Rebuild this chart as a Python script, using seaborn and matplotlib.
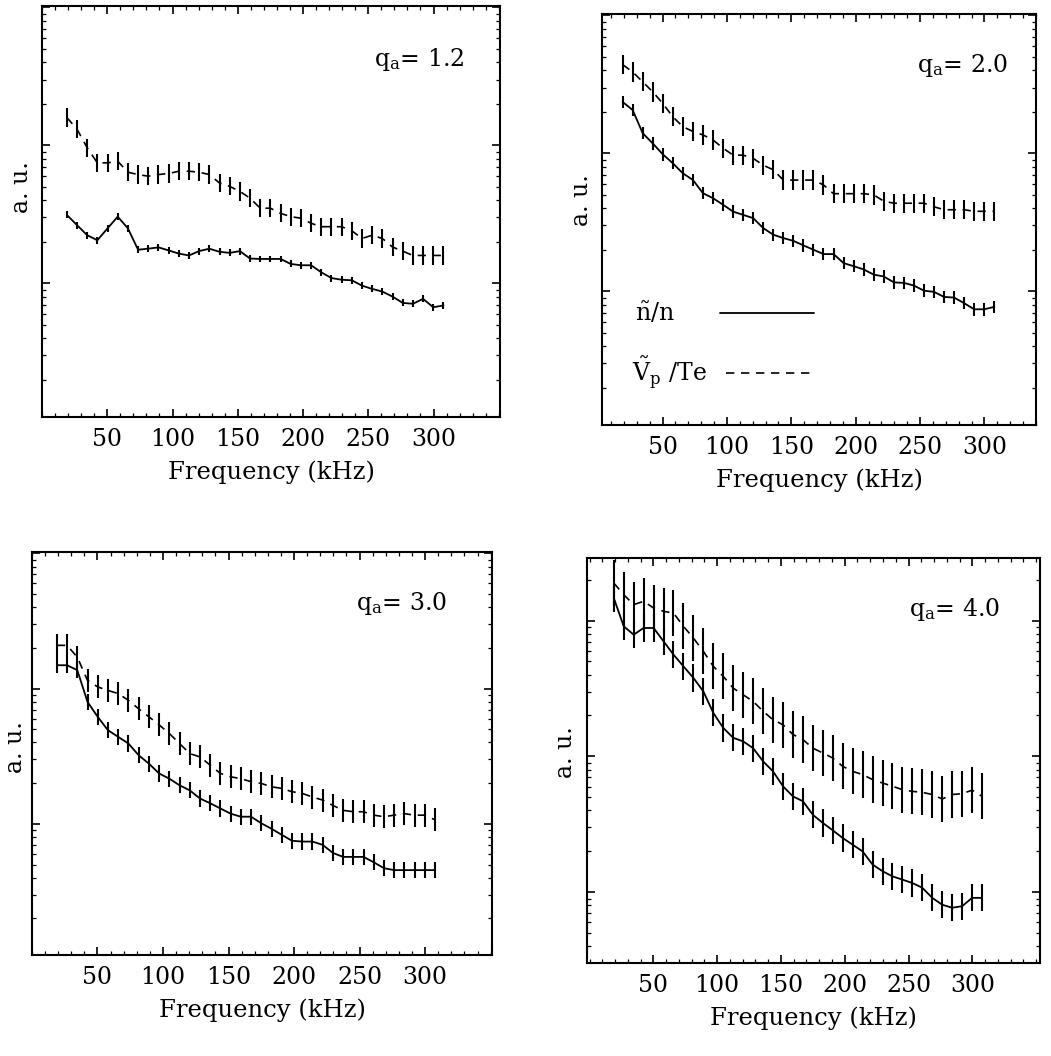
import numpy as np
import matplotlib
matplotlib.use("Agg")
import matplotlib.pyplot as plt
import seaborn as sns
from matplotlib.ticker import FixedLocator, MultipleLocator, LogLocator, NullFormatter

# ---------------- data ----------------
freq = [19.0, 26.8, 34.6, 42.4, 50.2, 58.0, 65.8, 73.6, 81.4, 89.2, 97.0, 104.8,
        112.6, 120.4, 128.2, 136.0, 143.8, 151.6, 159.4, 167.2, 175.0, 182.8,
        190.6, 198.4, 206.2, 214.0, 221.8, 229.6, 237.4, 245.2, 253.0, 260.8,
        268.6, 276.4, 284.2, 292.0, 299.8, 307.6]

q_labels = ["1.2", "2.0", "3.0", "4.0"]
x_ticks = [50, 100, 150, 200, 250, 300]

# n~/n (solid)
n_q12 = [3.13, 2.64, 2.23, 2.05, 2.50, 3.04, 2.50, 1.75, 1.78, 1.82, 1.73, 1.64, 1.59,
         1.71, 1.78, 1.69, 1.66, 1.71, 1.51, 1.50, 1.50, 1.50, 1.38, 1.35, 1.35, 1.20,
         1.09, 1.06, 1.05, 0.96, 0.91, 0.87, 0.80, 0.72, 0.71, 0.77, 0.67, 0.69]
n_q20 = [23.6, 20.6, 14.0, 11.8, 9.84, 8.47, 7.16, 6.41, 5.14, 4.73, 4.24, 3.78, 3.58,
         3.39, 2.87, 2.57, 2.43, 2.32, 2.15, 2.00, 1.86, 1.86, 1.60, 1.52, 1.44, 1.32,
         1.28, 1.16, 1.15, 1.10, 1.01, 0.99, 0.91, 0.90, 0.82, 0.74, 0.74, 0.77]
n_q30 = [14.9, 14.9, 13.7, 7.98, 6.18, 4.93, 4.40, 3.93, 3.22, 2.79, 2.36, 2.16, 1.93,
         1.77, 1.54, 1.42, 1.30, 1.19, 1.13, 1.13, 1.01, 0.92, 0.83, 0.75, 0.74, 0.74,
         0.70, 0.61, 0.57, 0.57, 0.57, 0.52, 0.47, 0.455, 0.455, 0.455, 0.455, 0.455]
n_q40 = [146.6, 90.6, 78.7, 88.1, 88.1, 70.3, 56.1, 46.0, 37.8, 30.1, 20.9, 16.2, 13.7,
         12.9, 11.5, 9.20, 7.76, 6.03, 5.08, 4.68, 3.72, 3.24, 2.86, 2.51, 2.24, 2.00,
         1.60, 1.43, 1.31, 1.24, 1.17, 1.08, 0.91, 0.81, 0.77, 0.79, 0.91, 0.91]

# V~p/Te (dashed)
v_q12 = [15.9, 13.1, 9.6, 7.46, 7.46, 7.67, 6.38, 6.14, 5.97, 6.14, 6.24, 6.49, 6.49,
         6.38, 6.14, 5.33, 5.04, 4.63, 4.14, 3.50, 3.50, 3.21, 3.04, 2.96, 2.72, 2.57,
         2.57, 2.57, 2.40, 2.11, 2.23, 2.11, 1.83, 1.71, 1.59, 1.59, 1.59, 1.59]
v_q20 = [44.0, 38.9, 33.0, 27.9, 23.0, 18.4, 15.6, 14.4, 13.6, 12.5, 10.9, 9.7, 9.7,
         9.2, 8.2, 7.6, 6.4, 6.4, 6.4, 6.4, 5.9, 5.1, 5.1, 5.1, 5.1, 5.0, 4.5, 4.35,
         4.35, 4.35, 4.35, 4.1, 3.9, 3.9, 3.9, 3.8, 3.8, 3.8]
v_q30 = [20.9, 20.9, 17.1, 11.5, 10.3, 9.7, 9.2, 8.2, 7.1, 6.2, 5.4, 4.66, 3.93, 3.31,
         3.13, 2.72, 2.36, 2.23, 2.16, 2.05, 1.99, 1.88, 1.83, 1.73, 1.68, 1.58, 1.50,
         1.37, 1.26, 1.23, 1.23, 1.16, 1.13, 1.16, 1.19, 1.16, 1.16, 1.07]
v_q40 = [188.8, 154.9, 130.9, 138.4, 123.6, 116.9, 113.5, 90.6, 74.3, 59.3, 46.0, 38.8,
         31.8, 28.4, 25.4, 21.5, 18.6, 17.1, 14.5, 13.3, 11.5, 10.6, 9.73, 8.45, 7.76,
         7.35, 6.75, 6.37, 6.03, 5.69, 5.53, 5.44, 5.24, 4.86, 5.24, 5.32, 5.64, 5.08]

# error half-widths in decades
err_n = [0.025, 0.045, 0.06, 0.10]
err_v = [0.066, 0.07, 0.085, 0.17]

n_series = [n_q12, n_q20, n_q30, n_q40]
v_series = [v_q12, v_q20, v_q30, v_q40]

label_n = r"$\tilde{\mathrm{n}}/\mathrm{n}$"
label_v = r"$\tilde{\mathrm{V}}_\mathrm{p}$ /Te"

# ---------------- style ----------------
sns.set_theme(style="ticks")
plt.rcParams["font.family"] = ["DejaVu Serif"]
plt.rcParams["mathtext.fontset"] = "dejavuserif"
plt.rcParams["axes.linewidth"] = 1.5
plt.rcParams["text.color"] = "black"
plt.rcParams["axes.labelcolor"] = "black"
plt.rcParams["xtick.color"] = "black"
plt.rcParams["ytick.color"] = "black"

FS = 17

fig = plt.figure(figsize=(10.51, 10.56), dpi=100)

axes_rects = [
    [0.0400, 0.6051, 0.4358, 0.3892],
    [0.5728, 0.5975, 0.4129, 0.3892],
    [0.0304, 0.0956, 0.4377, 0.3816],
    [0.5585, 0.0881, 0.4310, 0.3835],
]
xlims = [(0, 351), (3, 340), (0, 351), (-2, 353)]
ylims = [(10**-0.97, 10**2.01), (10**-0.97, 10**2.01),
         (10**-0.97, 10**2.01), (10**-0.52, 10**2.46)]
qpos = [(0.92, 0.87), (0.935, 0.876), (0.902, 0.873), (0.912, 0.872)]
ylab_pos = [(-0.02, 0.56), (-0.02, 0.547), (-0.011, 0.516), (-0.022, 0.52)]

fx = np.array(freq)
for i in range(4):
    ax = fig.add_axes(axes_rects[i])
    ax.set_yscale("log")
    n = np.array(n_series[i])
    v = np.array(v_series[i])

    sns.lineplot(x=fx, y=n, ax=ax, color="black", lw=1.3, label=label_n, legend=False)
    sns.lineplot(x=fx, y=v, ax=ax, color="black", lw=1.2, label=label_v, legend=False)
    line_n, line_v = ax.lines[0], ax.lines[1]
    line_v.set_linestyle((0, (5, 4)))

    en = err_n[i]
    ev = err_v[i]
    ax.errorbar(fx, n, yerr=[n - n / 10**en, n * 10**en - n], fmt="none",
                ecolor="black", elinewidth=1.5, capsize=0)
    ax.errorbar(fx, v, yerr=[v - v / 10**ev, v * 10**ev - v], fmt="none",
                ecolor="black", elinewidth=1.5, capsize=0)

    ax.set_xlim(*xlims[i])
    ax.set_ylim(*ylims[i])
    ax.xaxis.set_major_locator(FixedLocator(x_ticks))
    ax.xaxis.set_minor_locator(MultipleLocator(10))
    ax.yaxis.set_major_locator(LogLocator(base=10))
    ax.yaxis.set_minor_locator(LogLocator(base=10, subs=np.arange(2, 10)))
    ax.yaxis.set_major_formatter(NullFormatter())
    ax.yaxis.set_minor_formatter(NullFormatter())
    ax.tick_params(which="both", direction="in", top=True, right=True, colors="black")
    ax.tick_params(which="major", length=6, width=1.2, labelsize=FS, pad=8)
    ax.tick_params(which="minor", length=3, width=0.9)

    ax.set_xlabel("Frequency (kHz)", fontsize=FS + 0.5, labelpad=7)
    ax.set_ylabel("a. u.", fontsize=FS)
    ax.yaxis.set_label_coords(*ylab_pos[i])
    for s in ax.spines.values():
        s.set_color("black")
        s.set_linewidth(1.5)

    ax.text(qpos[i][0], qpos[i][1], r"q$_\mathrm{a}$= " + q_labels[i], transform=ax.transAxes,
            ha="right", va="center", fontsize=FS)

    if i == 1:
        leg1 = ax.legend(handles=[line_n], labels=[label_n], loc="center left",
                         bbox_to_anchor=(0.076, 0.272), frameon=False, markerfirst=False,
                         fontsize=FS, handlelength=4.0, handletextpad=1.9,
                         borderpad=0, borderaxespad=0)
        ax.add_artist(leg1)
        ax.legend(handles=[line_v], labels=[label_v], loc="center left",
                  bbox_to_anchor=(0.069, 0.128), frameon=False, markerfirst=False,
                  fontsize=FS, handlelength=3.8, handletextpad=0.8,
                  borderpad=0, borderaxespad=0)

fig.savefig("out.png", dpi=100)
